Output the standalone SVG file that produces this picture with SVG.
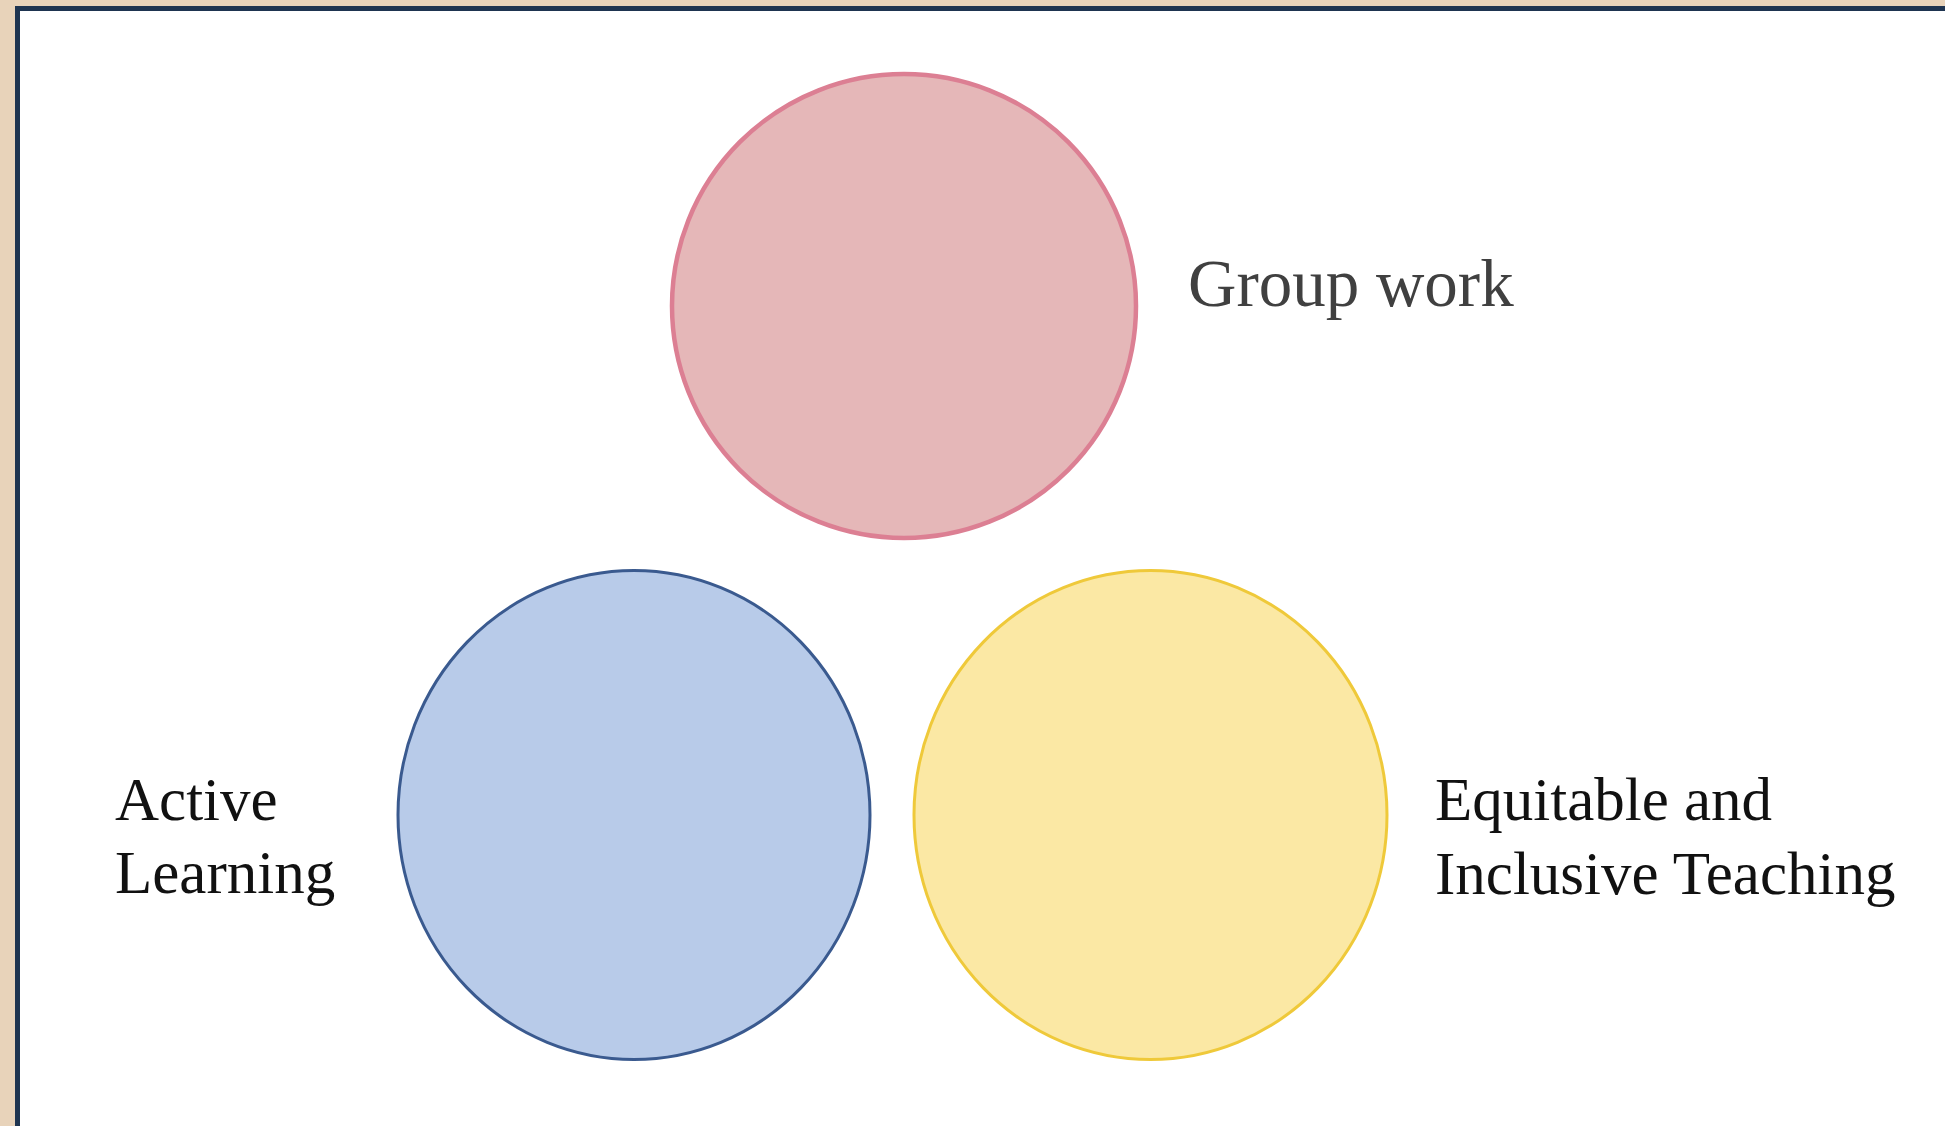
<svg xmlns="http://www.w3.org/2000/svg" width="1945" height="1126" viewBox="0 0 1945 1126">
  <style>
    .lbl { font-family: "Liberation Serif", "Times New Roman", serif; }
    .dark { fill: #111111; font-size: 61px; }
    .grey { fill: #404040; font-size: 67px; }
  </style>
  <!-- page background and framed panel -->
  <rect x="0" y="0" width="1945" height="1126" fill="#e8d3ba"/>
  <rect x="17.5" y="8.5" width="1940" height="1130" fill="#ffffff" stroke="#1e3450" stroke-width="5"/>

  <g id="group-work">
    <ellipse cx="904" cy="306" rx="232" ry="232" fill="#e5b7b8" stroke="#dc7f93" stroke-width="4.5"/>
    <text class="lbl grey" x="1188" y="306">Group work</text>
  </g>

  <g id="active-learning">
    <ellipse cx="634" cy="815" rx="236" ry="244.5" fill="#b8cbe9" stroke="#3a5a8f" stroke-width="3"/>
    <text class="lbl dark" x="115" y="820">Active</text>
    <text class="lbl dark" x="115" y="893">Learning</text>
  </g>

  <g id="equitable-inclusive">
    <ellipse cx="1150.5" cy="815" rx="236.5" ry="244.5" fill="#fbe8a4" stroke="#efc93a" stroke-width="3"/>
    <text class="lbl dark" x="1435" y="820">Equitable and</text>
    <text class="lbl dark" x="1435" y="894">Inclusive Teaching</text>
  </g>

  <g id="connectors"/>
</svg>
